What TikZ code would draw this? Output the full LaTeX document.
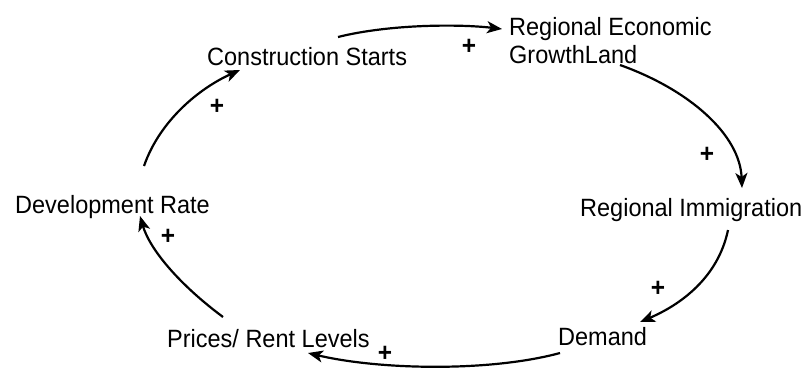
\documentclass[tikz,border=0pt]{standalone}
\usepackage{fontspec}
\setmainfont[FakeStretch=0.94]{Liberation Sans}
\usetikzlibrary{arrows.meta}
\begin{document}
\begin{tikzpicture}[x=1pt,y=-1pt,
  label/.style={inner sep=0pt,anchor=base west,font=\fontsize{25}{28}\selectfont},
  sign/.style={inner sep=0pt,anchor=base,font=\fontsize{26}{26}\selectfont\bfseries},
  link/.style={line width=2.2pt,-{Stealth[length=15pt,width=12pt,inset=4pt]}}]
\useasboundingbox (0,0) rectangle (805,367);

% variables of the loop (the two-line label is anchored on its last baseline)
\node[label] (cs)  at (207,65)  {Construction Starts};
\node[label,align=left] (reg) at (509,63) {Regional Economic\\GrowthLand};
\node[label] (imm) at (580,216) {Regional Immigration};
\node[label] (dem) at (558,345) {Demand};
\node[label] (pr)  at (167,347) {Prices/ Rent Levels};
\node[label] (dev) at (15,213)  {Development Rate};

% causal links
\draw[link] ([shift={(131,-28)}]cs.base west) .. controls +(52,-13) and +(-42,-5) .. ([shift={(-7,-34)}]reg.base west);
\draw[link] ([shift={(111,2)}]reg.base west) .. controls +(70,25) and +(-2,-53) .. ([shift={(162,-28)}]imm.base west);
\draw[link] ([shift={(148,14)}]imm.base west) .. controls +(-10,48) and +(40,-17) .. ([shift={(82,-23)}]dem.base west);
\draw[link] ([shift={(2,8)}]dem.base west) .. controls +(-70,19) and +(72,17) .. ([shift={(141,6)}]pr.base west);
\draw[link] ([shift={(56,-30)}]pr.base west) .. controls +(-43,-32) and +(10,34) .. ([shift={(125,3)}]dev.base west);
\draw[link] ([shift={(129,-47)}]dev.base west) .. controls +(16,-46) and +(-40,18) .. ([shift={(33,5)}]cs.base west);

% link polarities
\node[sign] (p1) at (469,54)  {+};
\node[sign] (p2) at (707,162) {+};
\node[sign] (p3) at (658,296) {+};
\node[sign] (p4) at (385,361) {+};
\node[sign] (p5) at (168,244) {+};
\node[sign] (p6) at (217,114) {+};
\end{tikzpicture}
\end{document}
